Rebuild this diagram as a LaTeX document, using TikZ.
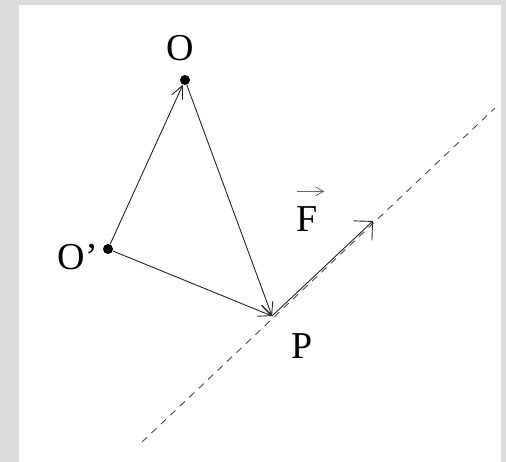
\documentclass[tikz,border=0pt]{standalone}
\usepackage{fontspec}
\setmainfont{Liberation Serif}
\usetikzlibrary{arrows.meta}
\definecolor{frame}{HTML}{DCDCDC}
\tikzset{
  vec/.style={line width=0.9pt, draw=black!85, -{Straight Barb[angle=50:14pt,line width=0.9pt]}},
  force/.style={line width=0.9pt, draw=black!85, -{Straight Barb[angle=90:19pt,line width=0.9pt]}},
  overarrow/.style={line width=0.8pt, draw=black!60, -{Straight Barb[angle=60:9pt,line width=0.8pt]}},
  actionline/.style={line width=0.9pt, draw=black!70, dash pattern=on 7pt off 6pt},
  dot/.style={circle, fill=black, inner sep=0pt, minimum size=10pt},
  lbl/.style={inner sep=0pt, font=\fontsize{38}{44}\selectfont}
}
\begin{document}
\begin{tikzpicture}[x=1pt,y=-1pt]
\useasboundingbox (0,0) rectangle (506,462);
\fill[frame] (0,0) rectangle (506,462);
\fill[white] (19,5) rectangle (501,462);
% points
\node[dot] (O) at (185,80) {};
\node[dot] (Op) at (108,249) {};
\coordinate (P) at (272,316);
\coordinate (Fend) at (373,221);
\coordinate (La) at (142,442);
\coordinate (Lb) at (495,108);
% line of action
\draw[actionline] (La) -- (Lb);
% vectors
\draw[vec] (Op) -- (O);
\draw[vec] (O) -- (P);
\draw[vec] (Op) -- (P);
\draw[force] (P) -- (Fend);
% labels
\node[lbl] (Olbl) at (180,48) {O};
\node[lbl] (Oplbl) at (78,257) {O’};
\node[lbl] (Plbl) at (302.5,346.5) {P};
\node[lbl] (Flbl) at (307.5,219) {F};
\draw[overarrow] ([yshift=15pt]Flbl.north west) -- ([yshift=15pt,xshift=6pt]Flbl.north east);
\end{tikzpicture}
\end{document}
